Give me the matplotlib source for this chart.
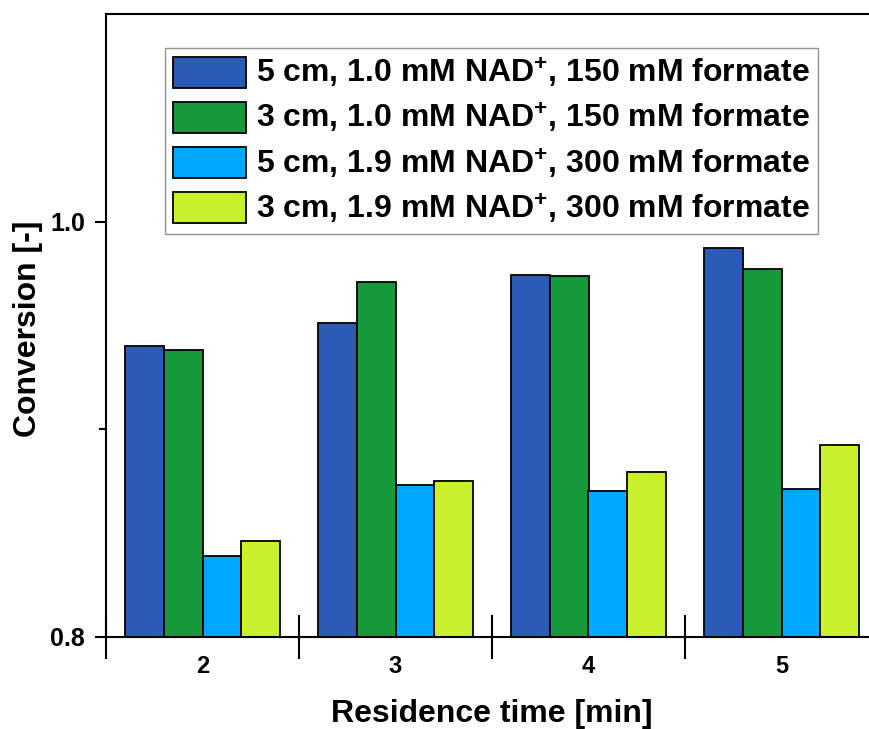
import matplotlib
matplotlib.use("Agg")
import matplotlib.pyplot as plt
import numpy as np

plt.rcParams['font.family'] = ['Liberation Sans', 'DejaVu Sans']
plt.rcParams['font.weight'] = 'bold'
plt.rcParams['mathtext.fontset'] = 'custom'
plt.rcParams['mathtext.bf'] = 'Liberation Sans:bold'
plt.rcParams['mathtext.rm'] = 'Liberation Sans:bold'
plt.rcParams['mathtext.default'] = 'bf'

times = [2, 3, 4, 5]
labels = ['5 cm, 1.0 mM NAD$^{+}$, 150 mM formate',
          '3 cm, 1.0 mM NAD$^{+}$, 150 mM formate',
          '5 cm, 1.9 mM NAD$^{+}$, 300 mM formate',
          '3 cm, 1.9 mM NAD$^{+}$, 300 mM formate']
s_5cm_10 = [0.940, 0.951, 0.9745, 0.9875]
s_3cm_10 = [0.938, 0.971, 0.974, 0.977]
s_5cm_19 = [0.839, 0.873, 0.8705, 0.8715]
s_3cm_19 = [0.846, 0.875, 0.8795, 0.8925]
series = [s_5cm_10, s_3cm_10, s_5cm_19, s_3cm_19]
colors = ['#2A5BB6', '#15993A', '#00A8FF', '#C9F22C']

fig = plt.figure(figsize=(8.69, 7.29), dpi=100)
ax = fig.add_axes([106/869, 1-637/729, 772/869, (637-14)/729])

x = np.arange(len(times), dtype=float) + times[0]
w = 0.2
offsets = [-0.3, -0.1, 0.1, 0.3]
handles = []
for s, c, off, lab in zip(series, colors, offsets, labels):
    b = ax.bar(x + off, s, width=w, color=c, edgecolor='black', linewidth=1.3, label=lab)
    handles.append(b)

ax.set_xlim(1.5, 5.5)
ax.set_ylim(0.8, 1.1)

# major x ticks at group boundaries, labels at group centers via minor ticks
ax.set_xticks([1.5, 2.5, 3.5, 4.5, 5.5])
ax.set_xticklabels([])
ax.set_xticks(x, minor=True)
ax.set_xticklabels([str(t) for t in times], minor=True, fontsize=17, fontweight='bold')
ax.tick_params(axis='x', which='major', direction='inout', length=32, width=1.5)
ax.tick_params(axis='x', which='minor', length=0, pad=13)

ax.set_yticks([0.8, 1.0])
ax.set_yticklabels(['0.8', '1.0'], fontsize=18, fontweight='bold')
ax.set_yticks([0.9], minor=True)
ax.tick_params(axis='y', which='major', direction='out', length=8, width=1.5, pad=7)
ax.tick_params(axis='y', which='minor', direction='out', length=5, width=1.5)

for sp in ax.spines.values():
    sp.set_linewidth(1.5)
ax.spines['right'].set_visible(False)

ax.set_xlabel('Residence time [min]', fontsize=23, fontweight='bold', labelpad=15)
ax.set_ylabel('Conversion [-]', fontsize=23, fontweight='bold')
ax.yaxis.set_label_coords(-0.081, 0.495)

leg = ax.legend(handles=handles, loc='upper left', bbox_to_anchor=((165-106)/772, (637-48)/623),
                fontsize=23, frameon=True, fancybox=False, handlelength=2.3, handleheight=1.12,
                handletextpad=0.3, labelspacing=0.34, borderpad=0.25, borderaxespad=0)
leg.get_frame().set_edgecolor('#777777')
leg.get_frame().set_linewidth(1.0)
for t in leg.get_texts():
    t.set_fontweight('bold')

fig.savefig('out.png', dpi=100)
